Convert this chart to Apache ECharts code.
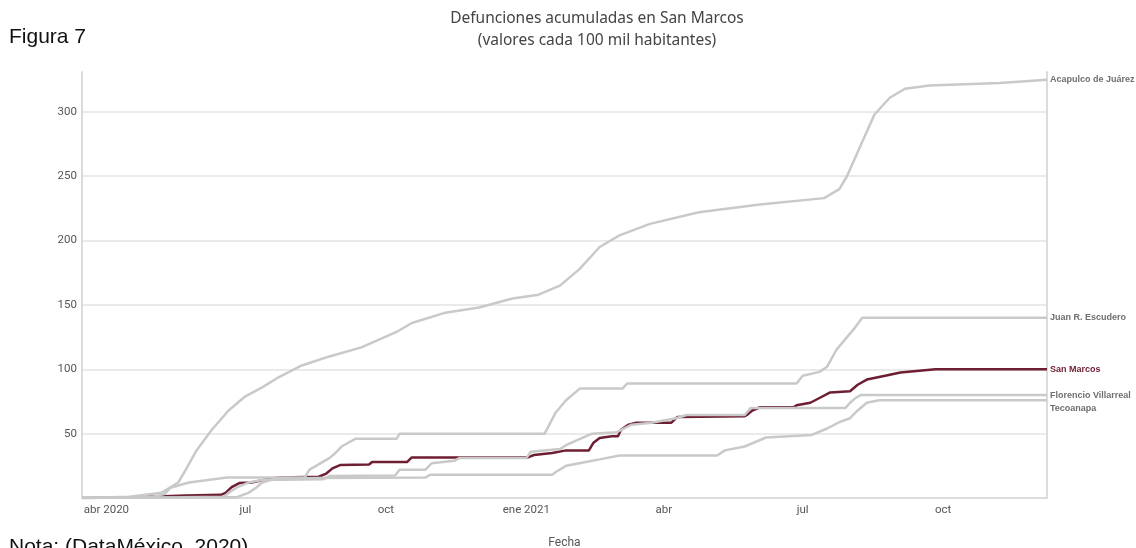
<!DOCTYPE html>
<html>
<head>
<meta charset="utf-8">
<title>Defunciones acumuladas en San Marcos</title>
<script src="https://cdn.jsdelivr.net/npm/echarts@6.0.0/dist/echarts.min.js"></script>
<style>
  html, body { margin: 0; padding: 0; background: #fff; }
  #chart { width: 1136px; height: 548px; }
</style>
</head>
<body>
<div id="chart"></div>
<script>
// datos (defunciones acumuladas cada 100 mil habitantes)
var sanMarcosFechas = ['2020-03-16','2020-04-20','2020-05-23','2020-06-15','2020-06-18','2020-06-22','2020-06-27','2020-07-05','2020-07-16','2020-07-23','2020-08-18','2020-08-23','2020-08-27','2020-09-01','2020-09-20','2020-09-22','2020-10-15','2020-10-18','2021-01-02','2021-01-06','2021-01-18','2021-01-27','2021-02-11','2021-02-14','2021-02-18','2021-02-26','2021-03-02','2021-03-04','2021-03-09','2021-03-14','2021-04-06','2021-04-10','2021-05-24','2021-05-26','2021-05-29','2021-06-03','2021-06-25','2021-06-27','2021-07-06','2021-07-12','2021-07-19','2021-08-01','2021-08-06','2021-08-12','2021-08-24','2021-09-03','2021-09-26','2021-12-08'];
var sanMarcosValores = [0,0.5,2,2.5,4,8.5,11.6,12,14.7,16,16.5,19,23,25.6,26,28,28,31.5,31.5,33.4,35,37,37,43,46.6,48,48,53,57,58.5,58.5,63,63.5,65,68,70.5,70.5,72,74,77.7,82,83,88,92,95,97.5,100,100];

var acapulcoFechas = ['2020-03-16','2020-04-16','2020-05-07','2020-05-18','2020-05-23','2020-05-30','2020-06-09','2020-06-20','2020-07-01','2020-07-12','2020-07-23','2020-08-07','2020-08-25','2020-09-15','2020-10-08','2020-10-18','2020-11-09','2020-12-01','2020-12-23','2021-01-09','2021-01-23','2021-02-05','2021-02-18','2021-03-03','2021-03-23','2021-04-24','2021-06-03','2021-07-15','2021-07-25','2021-07-30','2021-08-08','2021-08-17','2021-08-27','2021-09-06','2021-09-22','2021-11-07','2021-12-08'];
var acapulcoValores = [0,1,4,12,22,37,53,68,79,86,94,103,110,117,129,136,144,148,155,158,165,178,195,204,213,222,228,233,240,250,274,298,311,318,320.5,322.5,325];

var juanFechas = ['2020-03-16','2020-04-29','2020-05-09','2020-05-13','2020-05-25','2020-06-19','2020-08-09','2020-08-12','2020-08-25','2020-08-29','2020-09-02','2020-09-11','2020-10-08','2020-10-10','2021-01-13','2021-01-20','2021-01-27','2021-02-05','2021-03-05','2021-03-08','2021-06-27','2021-07-01','2021-07-12','2021-07-17','2021-07-23','2021-07-30','2021-08-04','2021-08-09','2021-12-08'];
var juanValores = [0,0.5,3,8,12,16,16,22,31,35,40,46,46,50,50,66,76,85,85,89,89,95,98,102,115,125,132,140,140];

var florencioFechas = ['2020-03-16','2020-05-20','2020-06-17','2020-06-20','2020-06-25','2020-07-03','2020-07-12','2020-08-21','2020-08-25','2020-10-07','2020-10-10','2020-10-27','2020-10-31','2020-11-15','2020-11-18','2021-01-01','2021-01-04','2021-01-23','2021-01-27','2021-02-13','2021-03-01','2021-03-11','2021-03-24','2021-04-09','2021-04-16','2021-05-24','2021-05-28','2021-07-29','2021-08-01','2021-08-05','2021-08-08','2021-12-08'];
var florencioValores = [0,0.5,1,4,8,12,14,14.5,17,17.5,22,22,27,29,31,31,36,38,41,50,51,57,58.5,62,64.5,64.5,70,70,74,78,80,80];

var tecoanapaFechas = ['2020-03-16','2020-06-25','2020-07-03','2020-07-08','2020-07-12','2020-07-20','2020-08-18','2020-10-27','2020-10-30','2021-01-18','2021-01-20','2021-01-27','2021-02-09','2021-02-18','2021-03-03','2021-05-06','2021-05-11','2021-05-24','2021-06-07','2021-07-07','2021-07-17','2021-07-25','2021-08-01','2021-08-06','2021-08-12','2021-08-20','2021-12-08'];
var tecoanapaValores = [0,0.5,4,8,12,15,15.5,16,18,18,20,25,28,30,33,33,37,40,47,49,54,59,62,68,74,76,76];

var etiquetasX = ['2020-04-01','2020-07-01','2020-10-01','2021-01-01','2021-04-01','2021-07-01','2021-10-01'];
var etiquetasY = [50, 100, 150, 200, 250, 300];
var meses = ['ene','feb','mar','abr','may','jun','jul','ago','sep','oct','nov','dic'];

function fecha(s){
    var p = s.split('-');
    return new Date(+p[0], +p[1] - 1, +p[2]).getTime();
}
function juntar(fechas, valores){
    var res = [];
    fechas.forEach(function(f, i){
        res.push([fecha(f), valores[i]]);
    });
    return res;
}

var gris = '#c9c9c9';
var granate = '#6e1e32';

function linea(nombre, fechas, valores, color, colorEtiqueta){
    return {
        name: nombre,
        type: 'line',
        data: juntar(fechas, valores),
        symbol: 'none',
        lineStyle: { color: color, width: 2.5 },
        itemStyle: { color: color },
        emphasis: { disabled: true },
        endLabel: {
            show: true,
            formatter: '{a}',
            distance: 3,
            lineHeight: 13,
            color: colorEtiqueta,
            fontFamily: '"Liberation Sans", Arial, sans-serif',
            fontWeight: 'bold',
            fontSize: 9
        },
        labelLayout: { moveOverlap: 'shiftY' }
    };
}

var chart = echarts.init(document.getElementById('chart'));

var option = {
    animation: false,
    grid: {
        left: 82,
        right: 89,
        top: 72,
        bottom: 50,
        outerBoundsMode: 'none'
    },
    graphic: [
        {
            type: 'text', x: 9, y: 27,
            style: { text: 'Figura 7', fill: '#111', font: '21px "Liberation Sans", Arial, sans-serif' }
        },
        {
            type: 'text', x: 9, y: 537,
            style: { text: 'Nota: (DataMéxico, 2020)', fill: '#111', font: '21px "Liberation Sans", Arial, sans-serif' }
        },
        {
            type: 'text', x: 597, y: 8,
            style: {
                text: 'Defunciones acumuladas en San Marcos\n(valores cada 100 mil habitantes)',
                align: 'center',
                fill: '#444',
                font: '15.5px "Noto Sans", sans-serif',
                lineHeight: 22
            }
        }
    ],
    xAxis: {
        // eje de valores con marcas de tiempo (ms), etiquetas propias
        type: 'value',
        min: fecha('2020-03-16'),
        max: fecha('2021-12-08'),
        name: 'Fecha',
        nameLocation: 'middle',
        nameGap: 39,
        nameTextStyle: { color: '#555', fontFamily: 'Roboto', fontSize: 12 },
        axisLine: { lineStyle: { color: '#dcdcdc', width: 2 } },
        axisTick: { show: false, customValues: etiquetasX.map(fecha) },
        splitLine: { show: false },
        axisLabel: {
            customValues: etiquetasX.map(fecha),
            margin: 6,
            color: '#555',
            fontFamily: 'Roboto',
            fontSize: 11.5,
            formatter: function(v){
                var d = new Date(v);
                var m = meses[d.getMonth()];
                if (d.getMonth() === 0 || v === fecha(etiquetasX[0])) {
                    return m + ' ' + d.getFullYear();
                }
                return m;
            }
        }
    },
    yAxis: [
        {
            type: 'value',
            min: 0,
            max: 331,
            axisLine: { show: true, lineStyle: { color: '#dcdcdc', width: 2 } },
            axisTick: { show: false, customValues: etiquetasY },
            splitLine: { show: true, lineStyle: { color: '#e3e3e3', width: 1.5 } },
            axisLabel: {
                customValues: etiquetasY,
                margin: 5,
                color: '#555',
                fontFamily: 'Roboto',
                fontSize: 11.5
            }
        },
        {
            type: 'value',
            position: 'right',
            min: 0,
            max: 331,
            axisLine: { show: true, lineStyle: { color: '#dcdcdc', width: 2 } },
            axisTick: { show: false },
            axisLabel: { show: false },
            splitLine: { show: false }
        }
    ],
    series: [
        linea('San Marcos', sanMarcosFechas, sanMarcosValores, granate, granate),
        linea('Acapulco de Juárez', acapulcoFechas, acapulcoValores, gris, '#6f6f6f'),
        linea('Juan R. Escudero', juanFechas, juanValores, gris, '#6f6f6f'),
        linea('Florencio Villarreal', florencioFechas, florencioValores, gris, '#6f6f6f'),
        linea('Tecoanapa', tecoanapaFechas, tecoanapaValores, gris, '#6f6f6f')
    ]
};

chart.setOption(option);
</script>
</body>
</html>
